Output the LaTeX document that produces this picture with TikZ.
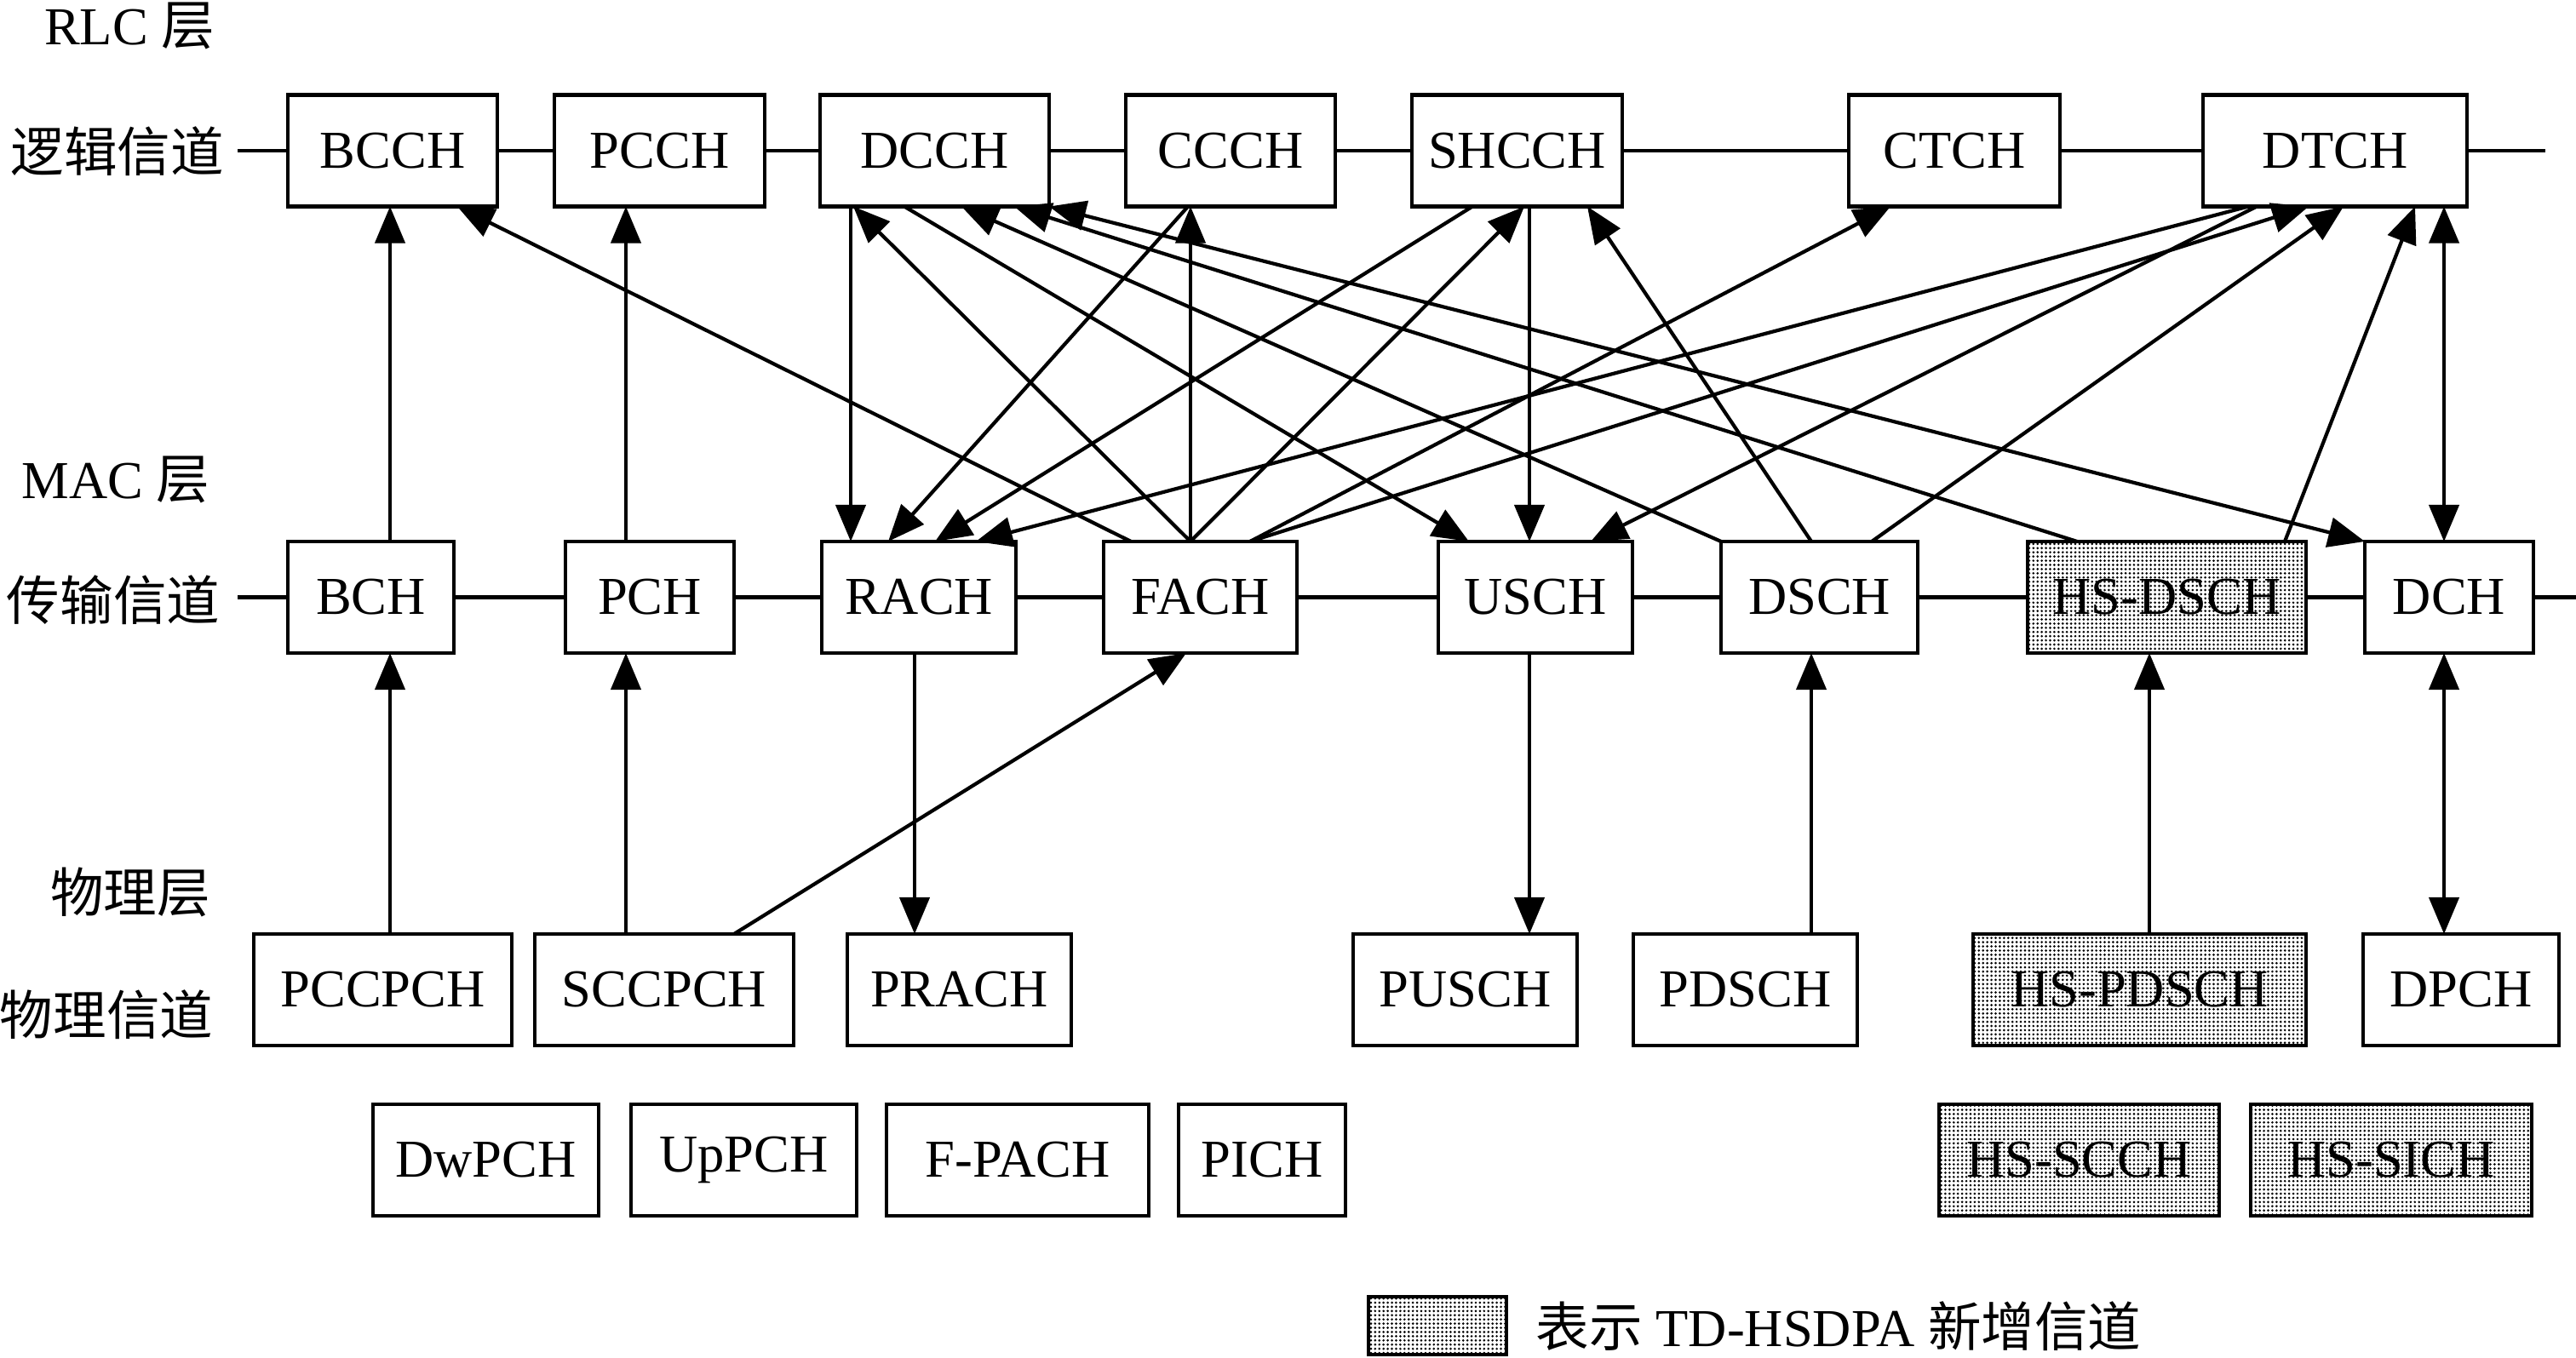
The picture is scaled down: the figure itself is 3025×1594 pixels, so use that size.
\documentclass[tikz,border=0pt]{standalone}
\usepackage{fontspec}
\setmainfont{Liberation Serif}
\newfontfamily\cjk{Noto Sans CJK SC}
\usetikzlibrary{arrows.meta,patterns.meta}
\begin{document}
\begin{tikzpicture}[x=0.01cm,y=-0.01cm,
  box/.style={draw, line width=1.25pt, minimum height=1.31cm, inner sep=0pt, outer sep=0pt, fill=white, font=\fontsize{17.8}{21}\selectfont},
  bw/.style={minimum width=#1*0.01cm},
  hs/.style={box, preaction={fill=white}, pattern={Dots[distance=1.4pt,radius=0.42pt]}},
  txt/.style={inner sep=0pt, font=\fontsize{17.8}{21}\selectfont},
  conn/.style={line width=1.2pt},
  arr/.style={conn, -{Triangle[length=0.43cm,width=0.35cm]}},
  darr/.style={conn, {Triangle[length=0.43cm,width=0.35cm]}-{Triangle[length=0.43cm,width=0.35cm]}},
]
\useasboundingbox (0,0) rectangle (3025,1594);

% labels
\node[txt] (rlc) at (152,30) {RLC {\cjk 层}};
\node[txt] (logic) at (138,178) {\cjk 逻辑信道};
\node[txt] (mac) at (136,563) {MAC {\cjk 层}};
\node[txt] (trans) at (133,705) {\cjk 传输信道};
\node[txt] (phyl) at (153,1048) {\cjk 物理层};
\node[txt] (phyc) at (125,1192) {\cjk 物理信道};

% logical channels
\node[box,bw=246] (BCCH) at (461,177) {BCCH};
\node[box,bw=247] (PCCH) at (774.5,177) {PCCH};
\node[box,bw=269] (DCCH) at (1097.5,177) {DCCH};
\node[box,bw=246] (CCCH) at (1445,177) {CCCH};
\node[box,bw=247] (SHCCH) at (1781.5,177) {SHCCH};
\node[box,bw=248] (CTCH) at (2295,177) {CTCH};
\node[box,bw=310] (DTCH) at (2742,177) {DTCH};

% transport channels
\node[box,bw=195] (BCH) at (435.5,701.5) {BCH};
\node[box,bw=198] (PCH) at (763,701.5) {PCH};
\node[box,bw=228] (RACH) at (1079,701.5) {RACH};
\node[box,bw=227] (FACH) at (1409.5,701.5) {FACH};
\node[box,bw=228] (USCH) at (1803,701.5) {USCH};
\node[box,bw=231] (DSCH) at (2136.5,701.5) {DSCH};
\node[hs,bw=327] (HSDSCH) at (2544.5,701.5) {HS-DSCH};
\node[box,bw=198] (DCH) at (2876,701.5) {DCH};

% physical channels
\node[box,bw=303] (PCCPCH) at (449.5,1162.5) {PCCPCH};
\node[box,bw=304] (SCCPCH) at (780,1162.5) {SCCPCH};
\node[box,bw=263] (PRACH) at (1126.5,1162.5) {PRACH};
\node[box,bw=263] (PUSCH) at (1720.5,1162.5) {PUSCH};
\node[box,bw=263] (PDSCH) at (2049.5,1162.5) {PDSCH};
\node[hs,bw=391] (HSPDSCH) at (2512.5,1162.5) {HS-PDSCH};
\node[box,bw=230] (DPCH) at (2890,1162.5) {DPCH};

\node[box,bw=265] (DwPCH) at (570.5,1362.5) {DwPCH};
\node[box,bw=265] (UpPCH) at (873.5,1362.5) {UpPCH};
\node[box,bw=308] (FPACH) at (1195,1362.5) {F-PACH};
\node[box,bw=196] (PICH) at (1482,1362.5) {PICH};
\node[hs,bw=329] (HSSCCH) at (2441.5,1362.5) {HS-SCCH};
\node[hs,bw=330] (HSSICH) at (2808,1362.5) {HS-SICH};

% legend
\node[hs,bw=162,minimum height=0.68cm] (leg) at (1688,1557) {};
\node[txt,anchor=west] (legt) at (1803,1558) {{\cjk 表示} TD-HSDPA {\cjk 新增信道}};

% channel lines
\coordinate (L1s) at (279,177);
\coordinate (L1e) at (2989,177);
\coordinate (L2s) at (279,701.5);
\coordinate (L2e) at (3025,701.5);
\foreach \a/\b in {L1s/BCCH,BCCH/PCCH,PCCH/DCCH,DCCH/CCCH,CCCH/SHCCH,SHCCH/CTCH,CTCH/DTCH,DTCH/L1e,
                   L2s/BCH,BCH/PCH,PCH/RACH,RACH/FACH,FACH/USCH,USCH/DSCH,DSCH/HSDSCH,HSDSCH/DCH,DCH/L2e}
  \draw[conn] (\a) -- (\b);

% MAC -> RLC mappings
\draw[arr] (BCH.north -| 458,0) -- (BCCH.south -| 458,0);
\draw[arr] (PCH.north -| 735,0) -- (PCCH.south -| 735,0);
\draw[arr] (FACH.north -| 1328,0) -- (BCCH.south -| 537,0);
\draw[arr] (DCCH.south -| 999,0) -- (RACH.north -| 999,0);
\draw[arr] (CCCH.south -| 1395,0) -- (RACH.north -| 1043,0);
\draw[arr] (SHCCH.south -| 1729,0) -- (RACH.north -| 1098,0);
\draw[arr] (DTCH.south -| 2640,0) -- (RACH.north -| 1146,0);
\draw[arr] (FACH.north -| 1398,0) -- (DCCH.south -| 1002,0);
\draw[arr] (FACH.north -| 1398,0) -- (CCCH.south -| 1398,0);
\draw[arr] (FACH.north -| 1398,0) -- (SHCCH.south -| 1790,0);
\draw[arr] (FACH.north -| 1468,0) -- (CTCH.south -| 2220,0);
\draw[arr] (FACH.north -| 1468,0) -- (DTCH.south -| 2711,0);
\draw[arr] (DCCH.south -| 1062,0) -- (USCH.north -| 1725,0);
\draw[arr] (SHCCH.south -| 1796,0) -- (USCH.north -| 1796,0);
\draw[arr] (DTCH.south -| 2650,0) -- (USCH.north -| 1868,0);
\draw[arr] (DSCH.north -| 2021,0) -- (DCCH.south -| 1129,0);
\draw[arr] (DSCH.north -| 2127,0) -- (SHCCH.south -| 1864,0);
\draw[arr] (DSCH.north -| 2198,0) -- (DTCH.south -| 2752,0);
\draw[arr] (HSDSCH.north -| 2439,0) -- (DCCH.south -| 1191,0);
\draw[arr] (HSDSCH.north -| 2683,0) -- (DTCH.south -| 2836,0);
\draw[darr] (DCCH.south east) -- (DCH.north west);
\draw[darr] (DTCH.south -| 2870,0) -- (DCH.north -| 2870,0);

% physical <-> transport
\draw[arr] (PCCPCH.north -| 458,0) -- (BCH.south -| 458,0);
\draw[arr] (SCCPCH.north -| 735,0) -- (PCH.south -| 735,0);
\draw[arr] (SCCPCH.north -| 862,0) -- (FACH.south -| 1393,0);
\draw[arr] (RACH.south -| 1074,0) -- (PRACH.north -| 1074,0);
\draw[arr] (USCH.south -| 1796,0) -- (PUSCH.north -| 1796,0);
\draw[arr] (PDSCH.north -| 2127,0) -- (DSCH.south -| 2127,0);
\draw[arr] (HSPDSCH.north -| 2524,0) -- (HSDSCH.south -| 2524,0);
\draw[darr] (DPCH.north -| 2870,0) -- (DCH.south -| 2870,0);
\end{tikzpicture}
\end{document}
